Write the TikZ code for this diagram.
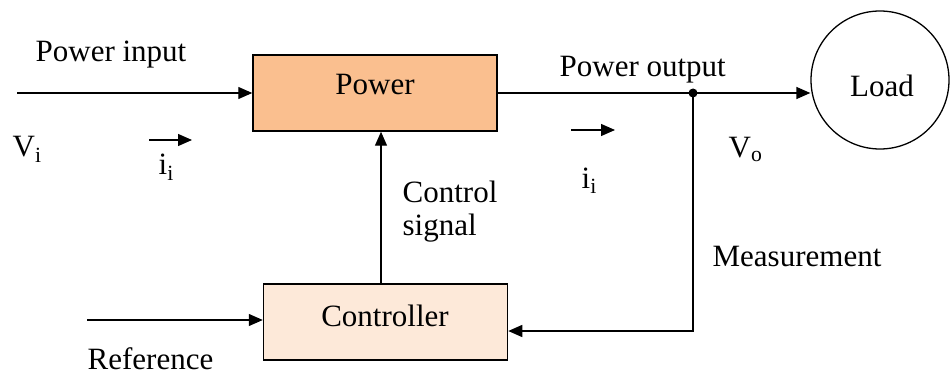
\documentclass[tikz,border=0pt]{standalone}
\usepackage{fontspec}
\setmainfont{Liberation Serif}
\usetikzlibrary{arrows.meta}
\definecolor{powerfill}{HTML}{FABF8F}
\definecolor{ctrlfill}{HTML}{FDE9D9}
\begin{document}
\begin{tikzpicture}[x=1pt, y=-1pt, >={Triangle[length=14pt,width=12pt]}, line width=1.3pt,
    blockbox/.style={draw, line width=1.5pt, minimum width=244pt, minimum height=76pt, inner sep=0pt},
    txt/.style={anchor=base west, inner sep=0pt, font=\fontsize{31}{37}\selectfont}]
    \useasboundingbox (0,0) rectangle (952,374);

    % blocks
    \node[blockbox, fill=powerfill] (power) at (375,93) {};
    \node[blockbox, fill=ctrlfill] (ctrl) at (385.5,322) {};
    \node[draw, circle, line width=1.3pt, minimum size=138pt, inner sep=0pt] (load) at (880,80) {};
    \node[txt, anchor=base] (powerlbl) at (375,95) {Power};
    \node[txt, anchor=base] (ctrllbl) at (385,326) {Controller};
    \node[txt, anchor=base] (loadlbl) at (882,97) {Load};

    % points
    \coordinate (vin) at (17,93);
    \coordinate (junc) at (693,93);
    \coordinate (meas) at (693,331);
    \coordinate (ref) at (87,320);
    \coordinate (cs) at (381,200);
    \coordinate (iina) at (149,140);
    \coordinate (iinb) at (192,140);
    \coordinate (iouta) at (571,130);
    \coordinate (ioutb) at (615,130);

    % connectors
    \draw[->] (vin) -- (power.west);
    \draw[->] (power.east) -- (load.west |- junc);
    \fill (junc) circle[radius=4.5pt];
    \draw[->] (junc) -- (meas) -- (meas -| ctrl.east);
    \draw[->] (ref) -- (ref -| ctrl.west);
    \draw[->] (ctrl.north -| cs) -- (power.south -| cs);
    \draw[->] (iina) -- (iinb);
    \draw[->] (iouta) -- (ioutb);

    % labels
    \node[txt] (pin) at (35,62) {Power input};
    \node[txt] (pout) at (559,77) {Power output};
    \node[txt] (vi) at (12,157) {V\textsubscript{i}};
    \node[txt] (ii) at (158,175) {i\textsubscript{i}};
    \node[txt] (io) at (581,188) {i\textsubscript{i}};
    \node[txt] (vo) at (728,158) {V\textsubscript{o}};
    \node[txt] (csig1) at (402,202) {Control};
    \node[txt] (csig2) at (402,235) {signal};
    \node[txt] (mlbl) at (712,266) {Measurement};
    \node[txt] (rlbl) at (87,369) {Reference};
\end{tikzpicture}
\end{document}
